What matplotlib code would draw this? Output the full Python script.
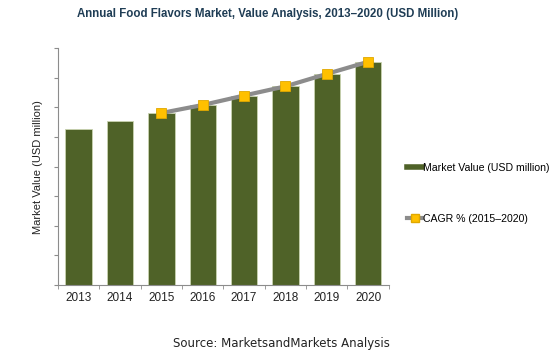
import matplotlib
matplotlib.use("Agg")
import matplotlib.pyplot as plt
from matplotlib.lines import Line2D

years = ["2013", "2014", "2015", "2016", "2017", "2018", "2019", "2020"]
market_value = [5.27, 5.54, 5.81, 6.08, 6.40, 6.71, 7.13, 7.54]
cagr_years = ["2015", "2016", "2017", "2018", "2019", "2020"]
cagr_line = [5.81, 6.08, 6.40, 6.71, 7.13, 7.54]

plt.rcParams['font.family'] = ['Liberation Sans', 'DejaVu Sans']

fig = plt.figure(figsize=(5.5, 3.62), dpi=100)
ax = fig.add_axes([0.1055, 0.2127, 0.6015, 0.6543])

x = list(range(len(years)))
bar_color = "#4F6228"
ax.bar(x, market_value, width=0.64, color=bar_color, edgecolor="#C9D3B0", linewidth=0.6, zorder=2)

xc = [years.index(y) for y in cagr_years]
ax.plot(xc, cagr_line, color="#8C8C8C", linewidth=3, zorder=3)
ax.plot(xc, cagr_line, linestyle="none", marker="s", markersize=7,
        markerfacecolor="#FFC000", markeredgecolor="#E0A800", markeredgewidth=0.6, zorder=4)

ax.set_xlim(-0.5, len(years) - 0.5)
ax.set_ylim(0, 8)
ax.set_yticks(range(0, 9))
ax.set_yticklabels([])
ax.set_xticks(x)
ax.set_xticklabels(years, fontsize=8.5, color="#222222")
ax.set_xticks([i + 0.5 for i in range(-1, len(years))], minor=True)
ax.tick_params(axis="x", which="major", length=0, pad=5)
ax.tick_params(axis="x", which="minor", length=3, color="#8C8C8C", direction="out")
ax.tick_params(axis="y", length=3, color="#8C8C8C", direction="out")

for s in ["top", "right"]:
    ax.spines[s].set_visible(False)
for s in ["left", "bottom"]:
    ax.spines[s].set_color("#8C8C8C")
    ax.spines[s].set_linewidth(0.8)

ax.set_ylabel("Market Value (USD million)", fontsize=8, color="#222222", labelpad=4)

fig.text(0.487, 0.962, "Annual Food Flavors Market, Value Analysis, 2013\u20132020 (USD Million)",
         ha="center", va="center", fontsize=8.3, fontweight="bold", color="#1F3D55")

h1 = Line2D([0], [0], color=bar_color, linewidth=4)
h2 = Line2D([0], [0], color="#8C8C8C", linewidth=3, marker="s", markersize=6,
            markerfacecolor="#FFC000", markeredgecolor="#E0A800")
fig.legend([h1, h2], ["Market Value (USD million)", "CAGR % (2015\u20132020)"],
           loc="upper left", bbox_to_anchor=(0.722, 0.577), frameon=False,
           fontsize=7.6, handlelength=1.5, handletextpad=0.1, labelspacing=3.9)

fig.text(0.512, 0.052, "Source: MarketsandMarkets Analysis", ha="center", va="center",
         fontsize=8.5, color="#222222", family=["DejaVu Sans"])

fig.savefig("out.png", dpi=100)
